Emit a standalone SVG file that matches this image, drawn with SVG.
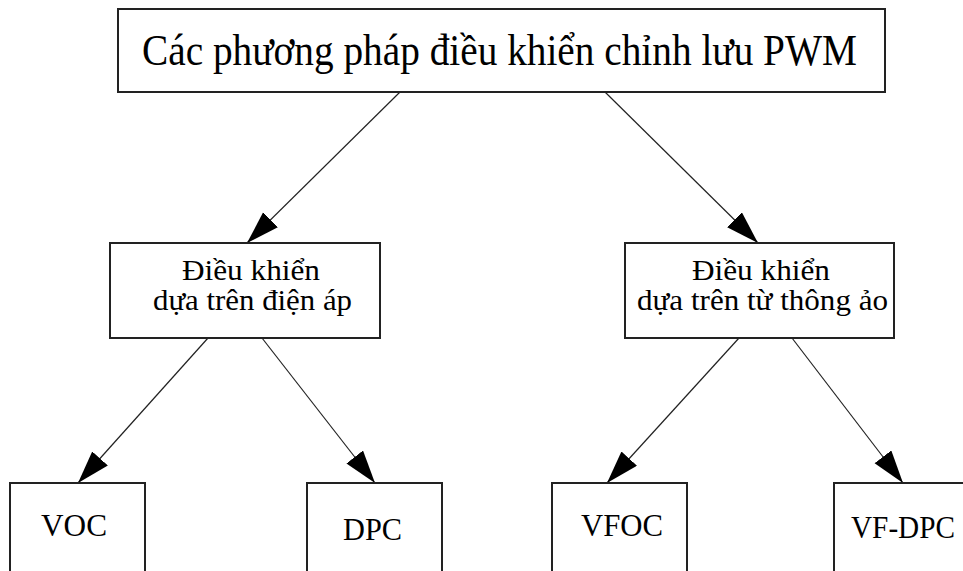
<svg xmlns="http://www.w3.org/2000/svg" width="963" height="571" viewBox="0 0 963 571">
<defs>
<marker id="arr" markerUnits="userSpaceOnUse" markerWidth="34" markerHeight="22" refX="33" refY="10.5" orient="auto" viewBox="0 0 34 22">
<path d="M0,0 L33,10.5 L0,21 z" fill="#000"/>
</marker>
<style>
.box{fill:#fff;stroke:#222;stroke-width:2}
.t{font-family:"Liberation Serif","Times New Roman",serif;fill:#000}
.edge{stroke:#222;stroke-width:1.2;fill:none;marker-end:url(#arr)}
</style>
</defs>
<rect width="963" height="571" fill="#fff"/>
<g id="connectors">
<line class="edge" x1="400" y1="92" x2="247" y2="243"/>
<line class="edge" x1="605" y1="92" x2="758" y2="243"/>
<line class="edge" x1="208" y1="338" x2="78" y2="483"/>
<line class="edge" x1="262" y1="338" x2="375" y2="483"/>
<line class="edge" x1="739" y1="338" x2="607" y2="483"/>
<line class="edge" x1="792" y1="338" x2="903" y2="483"/>
</g>
<g id="root">
<rect class="box" x="118" y="9" width="767" height="83"/>
<text class="t" x="142" y="65" font-size="45" textLength="715" lengthAdjust="spacingAndGlyphs">Các phương pháp điều khiển chỉnh lưu PWM</text>
</g>
<g id="voltage">
<rect class="box" x="110" y="243" width="270" height="95"/>
<text class="t" x="182" y="280" font-size="30" textLength="138" lengthAdjust="spacingAndGlyphs">Điều khiển</text>
<text class="t" x="153" y="310" font-size="30" textLength="199" lengthAdjust="spacingAndGlyphs">dựa trên điện áp</text>
</g>
<g id="flux">
<rect class="box" x="625" y="243" width="269" height="95"/>
<text class="t" x="692" y="280" font-size="30" textLength="138" lengthAdjust="spacingAndGlyphs">Điều khiển</text>
<text class="t" x="637" y="310" font-size="30" textLength="251" lengthAdjust="spacingAndGlyphs">dựa trên từ thông ảo</text>
</g>
<g id="voc">
<rect class="box" x="10" y="483" width="135" height="120"/>
<text class="t" x="41" y="536" font-size="32" textLength="66" lengthAdjust="spacingAndGlyphs">VOC</text>
</g>
<g id="dpc">
<rect class="box" x="307" y="483" width="135" height="120"/>
<text class="t" x="343" y="540" font-size="31" textLength="59" lengthAdjust="spacingAndGlyphs">DPC</text>
</g>
<g id="vfoc">
<rect class="box" x="552" y="483" width="135" height="120"/>
<text class="t" x="581" y="536" font-size="32" textLength="82" lengthAdjust="spacingAndGlyphs">VFOC</text>
</g>
<g id="vfdpc">
<rect class="box" x="834" y="483" width="140" height="120"/>
<text class="t" x="851" y="538" font-size="31" textLength="104" lengthAdjust="spacingAndGlyphs">VF-DPC</text>
</g>
</svg>
